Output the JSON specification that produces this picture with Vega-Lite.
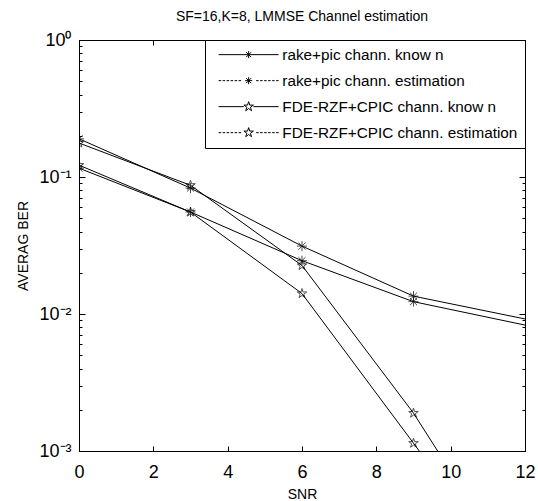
{
  "$schema": "https://vega.github.io/schema/vega-lite/v6.json",
  "width": 446,
  "height": 411,
  "autosize": {"type": "none"},
  "padding": {"left": 79, "top": 40, "right": 13, "bottom": 50},
  "background": "white",
  "title": {"text": "SF=16,K=8, LMMSE Channel estimation", "fontSize": 14, "font": "Liberation Sans", "fontWeight": "normal", "color": "black", "offset": 7},
  "data": {"values": [
    {"snr": 0, "ber": 0.116, "s": "rake+pic chann. know n"},
    {"snr": 3, "ber": 0.0555, "s": "rake+pic chann. know n"},
    {"snr": 6, "ber": 0.0245, "s": "rake+pic chann. know n"},
    {"snr": 9, "ber": 0.0123, "s": "rake+pic chann. know n"},
    {"snr": 12, "ber": 0.0083, "s": "rake+pic chann. know n"},
    {"snr": 0, "ber": 0.19, "s": "rake+pic chann. estimation"},
    {"snr": 3, "ber": 0.083, "s": "rake+pic chann. estimation"},
    {"snr": 6, "ber": 0.0313, "s": "rake+pic chann. estimation"},
    {"snr": 9, "ber": 0.0135, "s": "rake+pic chann. estimation"},
    {"snr": 12, "ber": 0.0092, "s": "rake+pic chann. estimation"},
    {"snr": 0, "ber": 0.122, "s": "FDE-RZF+CPIC chann. know n"},
    {"snr": 3, "ber": 0.0555, "s": "FDE-RZF+CPIC chann. know n"},
    {"snr": 6, "ber": 0.0141, "s": "FDE-RZF+CPIC chann. know n"},
    {"snr": 9, "ber": 0.00114, "s": "FDE-RZF+CPIC chann. know n"},
    {"snr": 12, "ber": 0.00009, "s": "FDE-RZF+CPIC chann. know n"},
    {"snr": 0, "ber": 0.177, "s": "FDE-RZF+CPIC chann. estimation"},
    {"snr": 3, "ber": 0.087, "s": "FDE-RZF+CPIC chann. estimation"},
    {"snr": 6, "ber": 0.0226, "s": "FDE-RZF+CPIC chann. estimation"},
    {"snr": 9, "ber": 0.00189, "s": "FDE-RZF+CPIC chann. estimation"},
    {"snr": 12, "ber": 0.0001, "s": "FDE-RZF+CPIC chann. estimation"}
  ]},
  "resolve": {"axis": {"x": "independent", "y": "independent"}},
  "layer": [
    {
      "mark": {"type": "line", "clip": true, "color": "black", "strokeWidth": 1},
      "encoding": {
        "x": {"field": "snr", "type": "quantitative",
          "scale": {"domain": [0, 12], "nice": false, "zero": false},
          "axis": {"orient": "bottom", "values": [0, 2, 4, 6, 8, 10, 12], "title": "SNR", "tickSize": -5, "labelPadding": 17, "titlePadding": 6, "labelFlush": false, "labelOverlap": false}},
        "y": {"field": "ber", "type": "quantitative",
          "scale": {"type": "log", "domain": [0.001, 1], "nice": false},
          "axis": {"orient": "left",
            "values": [0.001, 0.002, 0.003, 0.004, 0.005, 0.006, 0.007, 0.008, 0.009, 0.01, 0.02, 0.03, 0.04, 0.05, 0.06, 0.07, 0.08, 0.09, 0.1, 0.2, 0.3, 0.4, 0.5, 0.6, 0.7, 0.8, 0.9, 1],
            "labelExpr": "datum.value === 1 ? '10⁰' : datum.value === 0.1 ? '10⁻¹' : datum.value === 0.01 ? '10⁻²' : datum.value === 0.001 ? '10⁻³' : ''",
            "tickSize": {"condition": {"test": "datum.value === 1 || datum.value === 0.1 || datum.value === 0.01 || datum.value === 0.001", "value": -6}, "value": -3},
            "labelPadding": 14, "labelOverlap": false, "labelFlush": false,
            "title": "AVERAG BER", "titlePadding": 8}},
        "detail": {"field": "s"}
      }
    },
    {
      "transform": [{"filter": "datum.snr < 12 && indexof(datum.s, 'rake') === 0"}],
      "mark": {"type": "point", "clip": true, "color": "black", "filled": false, "strokeWidth": 1, "size": 100,
        "shape": "M-1,0L1,0M0,-1L0,1M-0.71,-0.71L0.71,0.71M-0.71,0.71L0.71,-0.71"},
      "encoding": {
        "x": {"field": "snr", "type": "quantitative",
          "scale": {"domain": [0, 12], "nice": false, "zero": false},
          "axis": {"orient": "top", "values": [0, 2, 4, 6, 8, 10, 12], "labels": false, "title": null, "tickSize": -5}},
        "y": {"field": "ber", "type": "quantitative",
          "scale": {"type": "log", "domain": [0.001, 1], "nice": false},
          "axis": {"orient": "right", "labels": false, "title": null,
            "values": [0.001, 0.002, 0.003, 0.004, 0.005, 0.006, 0.007, 0.008, 0.009, 0.01, 0.02, 0.03, 0.04, 0.05, 0.06, 0.07, 0.08, 0.09, 0.1, 0.2, 0.3, 0.4, 0.5, 0.6, 0.7, 0.8, 0.9, 1],
            "tickSize": {"condition": {"test": "datum.value === 1 || datum.value === 0.1 || datum.value === 0.01 || datum.value === 0.001", "value": -6}, "value": -3}}}
      }
    },
    {
      "transform": [{"filter": "datum.snr < 12 && indexof(datum.s, 'FDE') === 0"}],
      "mark": {"type": "point", "clip": true, "color": "black", "filled": false, "strokeWidth": 1, "size": 100,
        "shape": "M0,-1L0.2245,-0.309L0.9511,-0.309L0.3633,0.118L0.5878,0.809L0,0.382L-0.5878,0.809L-0.3633,0.118L-0.9511,-0.309L-0.2245,-0.309Z"},
      "encoding": {
        "x": {"field": "snr", "type": "quantitative", "scale": {"domain": [0, 12], "nice": false, "zero": false}, "axis": null},
        "y": {"field": "ber", "type": "quantitative", "scale": {"type": "log", "domain": [0.001, 1], "nice": false}, "axis": null}
      }
    },
    {
      "transform": [{"filter": "datum.snr === 0"}],
      "mark": {"type": "point", "clip": true, "color": "black", "filled": false, "strokeWidth": 1, "size": 16, "opacity": 0},
      "encoding": {
        "x": {"field": "snr", "type": "quantitative", "scale": {"domain": [0, 12], "nice": false, "zero": false}, "axis": null},
        "y": {"field": "ber", "type": "quantitative", "scale": {"type": "log", "domain": [0.001, 1], "nice": false}, "axis": null},
        "shape": {"field": "s", "type": "nominal",
          "scale": {
            "domain": ["rake+pic chann. know n", "rake+pic chann. estimation", "FDE-RZF+CPIC chann. know n", "FDE-RZF+CPIC chann. estimation"],
            "range": [
              "M-15,0L15,0M0,-1.75L0,1.75M-1.24,-1.24L1.24,1.24M-1.24,1.24L1.24,-1.24",
              "M-15,0L-13.75,0M-13,0L-11.75,0M-11,0L-9.75,0M-9,0L-7.75,0M-7,0L-5.75,0M-5,0L-3.75,0M3.75,0L5,0M5.75,0L7,0M7.75,0L9,0M9.75,0L11,0M11.75,0L13,0M13.75,0L15,0M-1.75,0L1.75,0M0,-1.75L0,1.75M-1.24,-1.24L1.24,1.24M-1.24,1.24L1.24,-1.24",
              "M-15,0L-2.4,0M2.4,0L15,0M0,-2.5L0.561,-0.773L2.378,-0.773L0.908,0.295L1.47,2.023L0,0.955L-1.47,2.023L-0.908,0.295L-2.378,-0.773L-0.561,-0.773Z",
              "M-15,0L-13.75,0M-13,0L-11.75,0M-11,0L-9.75,0M-9,0L-7.75,0M-7,0L-5.75,0M-5,0L-3.75,0M3.75,0L5,0M5.75,0L7,0M7.75,0L9,0M9.75,0L11,0M11.75,0L13,0M13.75,0L15,0M0,-2.5L0.561,-0.773L2.378,-0.773L0.908,0.295L1.47,2.023L0,0.955L-1.47,2.023L-0.908,0.295L-2.378,-0.773L-0.561,-0.773Z"
            ]},
          "legend": {
            "title": null, "orient": "top-right", "offset": 0, "padding": 7,
            "strokeColor": "black", "fillColor": "white", "cornerRadius": 0,
            "labelFont": "Liberation Sans", "labelFontSize": 15.3, "labelColor": "black", "labelLimit": 400,
            "symbolSize": 16, "symbolOffset": 29, "labelOffset": 26, "rowPadding": 10,
            "symbolStrokeColor": "black", "symbolStrokeWidth": 1, "symbolFillColor": "transparent", "symbolOpacity": 1
          }}
      }
    }
  ],
  "config": {
    "view": {"stroke": "black", "strokeWidth": 1},
    "axis": {"labelFont": "Liberation Sans", "titleFont": "Liberation Sans", "labelColor": "black", "titleColor": "black", "tickColor": "black", "domainColor": "black", "grid": false, "titleFontWeight": "normal", "labelFontSize": 18, "titleFontSize": 14}
  }
}
